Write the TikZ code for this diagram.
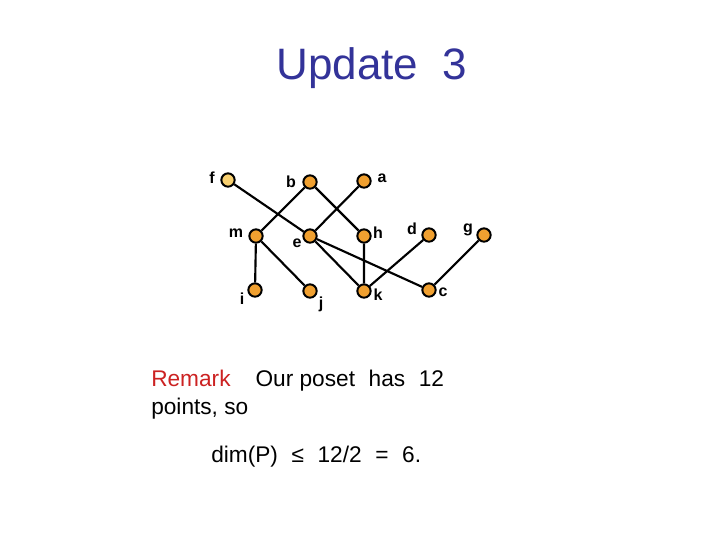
\documentclass[tikz,border=0pt]{standalone}
\usepackage{fontspec}
\setmainfont{Liberation Sans}
\definecolor{ttl}{HTML}{333399}
\definecolor{rem}{HTML}{CC2222}
\definecolor{dot}{HTML}{F0A030}
\definecolor{ldot}{HTML}{F8D070}
\begin{document}
\begin{tikzpicture}[x=0.75pt,y=-0.75pt,
  pt/.style={circle,draw=black,line width=1.5pt,fill=dot,minimum size=10pt,inner sep=0pt},
  lbl/.style={font=\bfseries\fontsize{12}{12}\selectfont},
  txt/.style={anchor=base west,inner sep=0pt,font=\fontsize{17}{17}\selectfont},
  edge/.style={line width=1.6pt}]
\useasboundingbox[fill=white] (0,0) rectangle (720,540);
\node[text=ttl,font=\fontsize{33}{33}\selectfont] (title) at (372,68) {Update\ \ 3};
\node[pt,fill=ldot] (f) at (228,180) {};
\node[pt] (b) at (310,182) {};
\node[pt] (a) at (364,181) {};
\node[pt] (m) at (256,236) {};
\node[pt] (e) at (310,236) {};
\node[pt] (h) at (364,236) {};
\node[pt] (d) at (429,235) {};
\node[pt] (g) at (484,235) {};
\node[pt] (i) at (255,290) {};
\node[pt] (j) at (310,291) {};
\node[pt] (k) at (364,291) {};
\node[pt] (c) at (429,290) {};
\draw[edge] (f)--(e) (b)--(m) (b)--(h) (a)--(e) (m)--(i) (m)--(j) (e)--(k) (e)--(c) (h)--(k) (k)--(d) (c)--(g);
\node[lbl] (lf) at (212,178) {f};
\node[lbl] (lb) at (291,182) {b};
\node[lbl] (la) at (382,178) {a};
\node[lbl] (lm) at (236,233) {m};
\node[lbl] (le) at (297,243) {e};
\node[lbl] (lh) at (378,233) {h};
\node[lbl] (ld) at (412,229) {d};
\node[lbl] (lg) at (468,230) {g};
\node[lbl] (li) at (242,299) {i};
\node[lbl] (lj) at (321,304) {j};
\node[lbl] (lk) at (378,295) {k};
\node[lbl] (lc) at (443,292) {c};
\node[txt] (r1) at (151,386) {\textcolor{rem}{Remark}\hspace{1.1em}Our poset\hspace{0.6em}has\hspace{0.6em}12};
\node[txt] (r2) at (151,414) {points, so};
\node[txt] (r3) at (211,462) {dim(P)\hspace{0.6em}≤\hspace{0.6em}12/2\hspace{0.6em}=\hspace{0.6em}6.};
\end{tikzpicture}
\end{document}
